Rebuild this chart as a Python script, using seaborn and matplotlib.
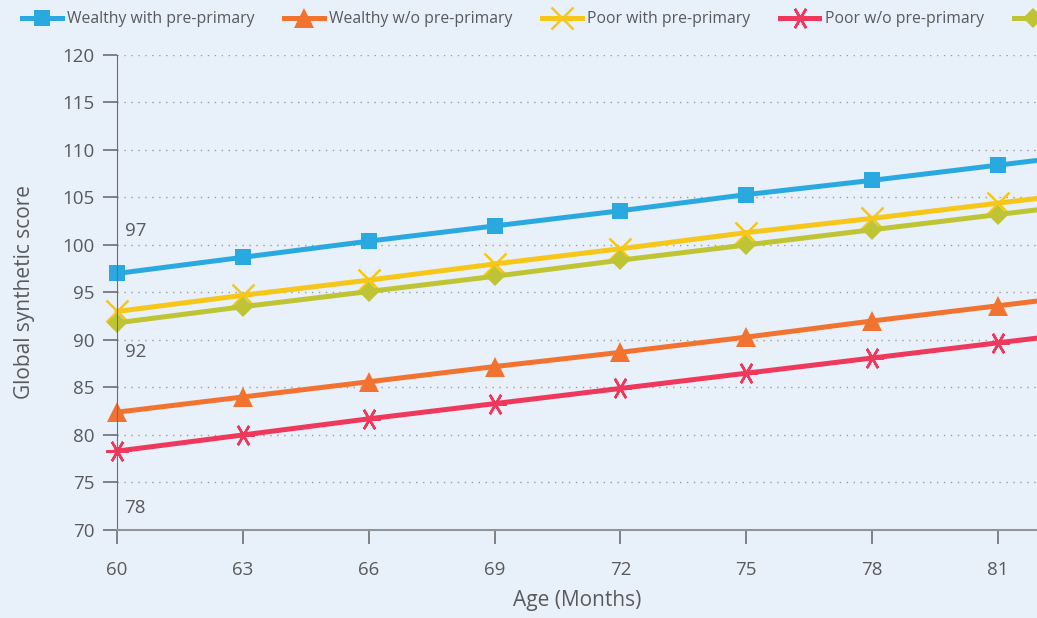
import pandas as pd
import seaborn as sns
import matplotlib.pyplot as plt

age = [60, 63, 66, 69, 72, 75, 78, 81, 84]
wealthy_pre = [97.0, 98.7, 100.4, 102.0, 103.6, 105.3, 106.8, 108.4, 110.0]
wealthy_nopre = [82.4, 84.0, 85.6, 87.2, 88.7, 90.3, 92.0, 93.6, 95.2]
poor_pre = [93.0, 94.7, 96.3, 98.0, 99.6, 101.3, 102.8, 104.4, 106.0]
average = [91.8, 93.5, 95.1, 96.7, 98.4, 100.0, 101.6, 103.2, 104.8]
poor_nopre = [78.3, 80.0, 81.7, 83.3, 84.9, 86.5, 88.1, 89.7, 91.3]

series = {
    "Wealthy with pre-primary": wealthy_pre,
    "Wealthy w/o pre-primary": wealthy_nopre,
    "Poor with pre-primary": poor_pre,
    "Poor w/o pre-primary": poor_nopre,
    "Average": average,
}
colors = {
    "Wealthy with pre-primary": "#2aa9e1",
    "Wealthy w/o pre-primary": "#f2722f",
    "Poor with pre-primary": "#f6c619",
    "Poor w/o pre-primary": "#ee385c",
    "Average": "#bec433",
}
markers = {
    "Wealthy with pre-primary": ("s", 12),
    "Wealthy w/o pre-primary": ("^", 14),
    "Poor with pre-primary": ("x", 16),
    "Poor w/o pre-primary": ((6, 2, 90), 16),
    "Average": ("D", 10),
}

df = pd.DataFrame([
    {"Age": a, "Score": v, "Group": name}
    for name, vals in series.items() for a, v in zip(age, vals)
])

bg = "#e8f0f9"
txt = "#595a5c"
plt.rcParams["font.family"] = ["Open Sans", "DejaVu Sans"]

fig = plt.figure(figsize=(10.37, 6.18), dpi=100, facecolor=bg)
ax = fig.add_axes([0.1128, 0.1424, 0.8872, 0.7687])
ax.set_facecolor(bg)

for name in series:
    m, ms = markers[name]
    line_art = m in ("x", (6, 2, 90))
    sns.lineplot(data=df[df["Group"] == name], x="Age", y="Score", ax=ax,
                 color=colors[name], linewidth=3.6, marker=m, markersize=ms,
                 markeredgewidth=1.8 if line_art else 0,
                 markeredgecolor=colors[name], label=name, clip_on=False)

ax.set_xlim(60, 81.93)
ax.set_ylim(70, 120)
ax.set_xticks([60, 63, 66, 69, 72, 75, 78, 81])
ax.set_yticks(range(70, 121, 5))
for y in range(75, 121, 5):
    ax.axhline(y, color="#9a9b9d", linestyle=(0, (1, 4)), linewidth=1, zorder=0)

for s in ["top", "right"]:
    ax.spines[s].set_visible(False)
ax.spines["left"].set_color("#6d6e70")
ax.spines["bottom"].set_color("#939496")
ax.spines["bottom"].set_linewidth(1.5)
ax.tick_params(axis="both", colors="#6d6e70", labelcolor=txt, labelsize=13.5,
               length=10, width=1.2)
ax.tick_params(axis="x", pad=12)
ax.tick_params(axis="y", pad=6)

ax.set_xlabel("Age (Months)", fontsize=15, color=txt, labelpad=8)
ax.set_ylabel("Global synthetic score", fontsize=15, color=txt, labelpad=20)

for val, ypos in [("97", 101.5), ("92", 88.7), ("78", 72.3)]:
    ax.text(60.18, ypos, val, fontsize=13.5, color=txt, va="center", ha="left")

ax.legend_.remove()
handles, labels = ax.get_legend_handles_labels()
fig.legend(handles, labels, ncol=5, loc="upper left", bbox_to_anchor=(0.008, 1.005),
           frameon=False, fontsize=11.3, labelcolor=txt, handlelength=2.5,
           handletextpad=0.35, columnspacing=1.9)

plt.savefig("out.png", dpi=100, facecolor=bg)
